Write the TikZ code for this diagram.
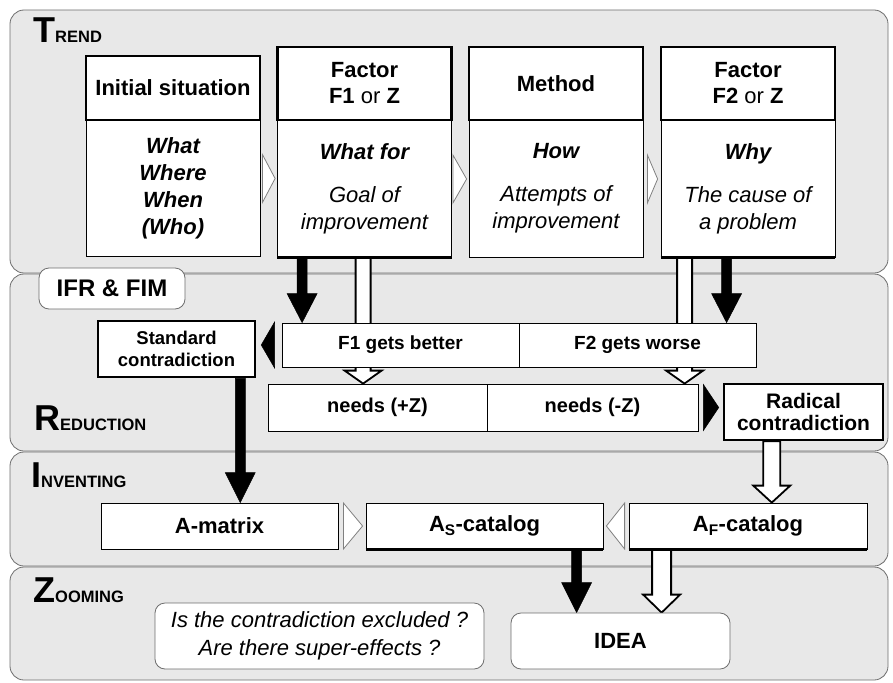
\documentclass[tikz,border=0pt]{standalone}
\usepackage{fontspec}
\setmainfont{Liberation Sans}
\usetikzlibrary{calc}

\pgfdeclarelayer{back}
\pgfdeclarelayer{arrows}
\pgfsetlayers{back,arrows,main}

\definecolor{panel}{HTML}{E8E8E8}
\definecolor{panelline}{HTML}{6E6E6E}

% big first letter, small rest
\newcommand{\capsname}[2]{{\fontsize{36}{36}\selectfont #1}{\fontsize{16.5}{16.5}\selectfont #2}}

% vertical block arrow: style, start, end, half shaft, half head, head length
\newcommand{\blockarrow}[6]{%
  \draw[#1] let \p1=#2, \p2=#3 in
    (\x1-#4,\y1) -- (\x1-#4,\y2+#6) -- (\x1-#5,\y2+#6) -- (\x1,\y2)
    -- (\x1+#5,\y2+#6) -- (\x1+#4,\y2+#6) -- (\x1+#4,\y1) -- cycle;}

% small triangle in a gap: style, base, tip, half height
\newcommand{\gaptri}[4]{%
  \draw[#1] let \p1=#2, \p2=#3 in
    (\x1,\y1+#4) -- (\x2,\y1) -- (\x1,\y1-#4) -- cycle;}

\begin{document}
\begin{tikzpicture}[x=1pt, y=-1pt,
        panelbox/.style={fill=panel, draw=panelline, line width=0.8pt, rounded corners=14pt},
        title/.style={anchor=base west, inner sep=0pt, font=\bfseries},
        head/.style={
            draw, line width=2.5pt, fill=white,
            minimum width=174pt, minimum height=73pt,
            align=center, inner sep=0pt,
            font=\bfseries\fontsize{22}{26}\selectfont
        },
        body/.style={
            draw, line width=0.8pt, fill=white,
            minimum width=174pt, minimum height=137pt,
            align=center, inner sep=0pt,
            font=\itshape\fontsize{22}{27}\selectfont
        },
        bar/.style={
            draw, line width=0.8pt, fill=white,
            minimum height=46pt, inner sep=0pt,
            font=\bfseries\fontsize{22}{22}\selectfont
        },
        contra/.style={
            draw, line width=2.5pt, fill=white,
            minimum width=157pt, minimum height=56pt,
            align=center, inner sep=0pt,
            font=\bfseries\fontsize{18.5}{22}\selectfont
        },
        soft/.style={draw=panelline, line width=0.8pt, fill=white,
            rounded corners=10pt, align=center, inner sep=0pt},
        botline/.style={append after command={
            (\tikzlastnode.south west) edge[line width=3.5pt] (\tikzlastnode.south east)}},
        blk/.style={fill=black, draw=black, line width=0.5pt},
        hollow/.style={fill=white, draw=black, line width=1.8pt},
        gapw/.style={fill=white, draw=gray, line width=0.8pt},
        gapb/.style={fill=black, draw=black, line width=0.5pt}
    ]
    \useasboundingbox (0,0) rectangle (893,682);

    \begin{pgfonlayer}{back}
        \draw[panelbox] (10,10) rectangle (888,273);
        \draw[panelbox] (10,274) rectangle (888,451);
        \draw[panelbox] (10,452) rectangle (888,566);
        \draw[panelbox] (10,567) rectangle (888,680);
    \end{pgfonlayer}

    \node[title] (ttrend) at (33,43) {\capsname{T}{REND}};
    \node[title] (tred) at (34,430) {\capsname{R}{EDUCTION}};
    \node[title] (tinv) at (31,487) {\capsname{I}{NVENTING}};
    \node[title] (tzoom) at (33,602) {\capsname{Z}{OOMING}};

    % trend columns
    \node[body, minimum height=136pt, font=\bfseries\itshape\fontsize{22}{27}\selectfont]
        (c1body) at (173,188) {What\\Where\\When\\(Who)};
    \node[head, minimum height=64pt] (c1head) at (173,88) {Initial situation};

    \node[body, botline] (c2body) at (364.5,188.5)
        {{\bfseries What for}\\[16pt]Goal of\\improvement};
    \node[head] (c2head) at (364.5,83.5) {Factor\\F1 {\mdseries or} Z};

    \node[body] (c3body) at (556,188.5)
        {{\bfseries How}\\[16pt]Attempts of\\improvement};
    \node[head] (c3head) at (556,83.5) {Method};

    \node[body, botline] (c4body) at (748,188.5)
        {{\bfseries Why}\\[16pt]The cause of\\a problem};
    \node[head] (c4head) at (748,83.5) {Factor\\F2 {\mdseries or} Z};

    % reduction
    \node[soft, minimum width=146pt, minimum height=41pt,
        font=\bfseries\fontsize{24}{24}\selectfont] (ifr) at (112,288.5) {IFR \& FIM};
    \node[contra] (stdc) at (176.5,349) {Standard\\contradiction};
    \node[bar, minimum width=237pt, minimum height=44pt,
        font=\bfseries\fontsize{19}{19}\selectfont] (f1b) at (400.5,345) {F1 gets better};
    \node[bar, minimum width=237pt, minimum height=44pt,
        font=\bfseries\fontsize{19}{19}\selectfont] (f2w) at (637.5,345) {F2 gets worse};
    \node[bar, minimum width=219pt, minimum height=47pt,
        font=\bfseries\fontsize{20}{20}\selectfont] (npz) at (377.5,407.5) {needs (+Z)};
    \node[bar, minimum width=211pt, minimum height=47pt,
        font=\bfseries\fontsize{20}{20}\selectfont] (nmz) at (592.5,407.5) {needs (-Z)};
    \node[contra, minimum width=159pt, font=\bfseries\fontsize{21}{21.5}\selectfont]
        (radc) at (803.5,412) {Radical\\contradiction};

    % inventing
    \node[bar, minimum width=237pt] (amat) at (219.5,526) {A-matrix};
    \node[bar, botline, minimum width=237pt] (asc) at (484.5,526) {A\textsubscript{S}-catalog};
    \node[bar, botline, minimum width=238pt] (afc) at (748,526) {A\textsubscript{F}-catalog};

    % zooming
    \node[soft, minimum width=329pt, minimum height=66pt,
        font=\itshape\fontsize{22}{28}\selectfont] (quest) at (319.5,636)
        {Is the contradiction excluded ?\\Are there super-effects ?};
    \node[soft, minimum width=219pt, minimum height=56pt,
        font=\bfseries\fontsize{22}{22}\selectfont] (idea) at (620.5,641) {IDEA};

    \begin{pgfonlayer}{arrows}
        \blockarrow{blk}{([xshift=25pt]c2body.south west)}{([xshift=20pt]f1b.north west)}{5pt}{15pt}{29pt}
        \blockarrow{hollow}{([xshift=86pt]c2body.south west)}{([xshift=95pt]npz.north west)}{7.5pt}{18.5pt}{13pt}
        \blockarrow{hollow}{([xshift=24pt]c4body.south west)}{([xshift=-13pt]nmz.north east)}{7.5pt}{18.5pt}{13pt}
        \blockarrow{blk}{([xshift=66pt]c4body.south west)}{([xshift=-29pt]f2w.north east)}{5pt}{15pt}{29pt}
        \blockarrow{blk}{([xshift=-16pt]stdc.south east)}{([xshift=138pt]amat.north west)}{5pt}{15pt}{30pt}
        \blockarrow{hollow}{([xshift=49pt]radc.south west)}{([xshift=144pt]afc.north west)}{8.5pt}{18.5pt}{17pt}
        \blockarrow{blk}{([xshift=211pt]asc.south west)}{([xshift=66pt]idea.north west)}{5pt}{15pt}{30pt}
        \blockarrow{hollow}{([xshift=33pt]afc.south west)}{([xshift=151pt]idea.north west)}{9.5pt}{18.5pt}{18pt}
    \end{pgfonlayer}

    \gaptri{gapw}{([shift={(2,-9.5)}]c1body.east)}{([xshift=-2pt]c2body.west)}{24pt}
    \gaptri{gapw}{([shift={(1,-9.5)}]c2body.east)}{([xshift=-2pt]c3body.west)}{24pt}
    \gaptri{gapw}{([shift={(4,-9.5)}]c3body.east)}{([xshift=-3pt]c4body.west)}{24pt}
    \gaptri{gapb}{([xshift=-7pt]f1b.west)}{([xshift=5pt]stdc.east)}{23pt}
    \gaptri{gapb}{([xshift=5pt]nmz.east)}{([xshift=-4pt]radc.west)}{23pt}
    \gaptri{gapw}{([xshift=5pt]amat.east)}{([xshift=-3pt]asc.west)}{23pt}
    \gaptri{gapw}{([xshift=-4pt]afc.west)}{([xshift=3pt]asc.east)}{23pt}

\end{tikzpicture}
\end{document}
